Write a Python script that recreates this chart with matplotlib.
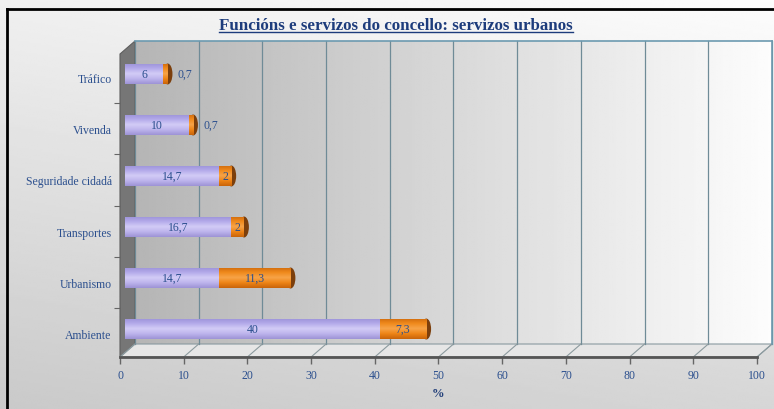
import numpy as np
import matplotlib
matplotlib.use('Agg')
import matplotlib.pyplot as plt
from matplotlib import transforms
from matplotlib.patches import Polygon, Ellipse
from matplotlib.colors import LinearSegmentedColormap

#### DATA ####
categorias = ['Ambiente', 'Urbanismo', 'Transportes', 'Seguridade cidadá', 'Vivenda', 'Tráfico']
serie_lila = [40, 14.7, 16.7, 14.7, 10, 6]
serie_laranxa = [7.3, 11.3, 2, 2, 0.7, 0.7]
ticks_x = [0, 10, 20, 30, 40, 50, 60, 70, 80, 90, 100]
titulo = 'Funcións e servizos do concello: servizos urbanos'

#### STYLE ####
W, H = 774, 410
DX, DY = 15, 13          # depth of the 3d box (px)
BX, BY = 5, 4            # bars sit a bit inside the box
texto_cor = '#2b4f8e'
plt.rcParams['font.family'] = ['Liberation Serif', 'DejaVu Serif']

def fmt(v):
    return ('%g' % v).replace('.', ',')

fig = plt.figure(figsize=(W / 100, H / 100), dpi=100)

# background in pixel coords
bg = fig.add_axes([0, 0, 1, 1], zorder=0)
bg.set_xlim(0, W)
bg.set_ylim(0, H)
bg.axis('off')
yy, xx = np.mgrid[0:1:200j, 0:1:200j]
fondo = 0.79 + 0.15 * yy + 0.05 * xx
bg.imshow(fondo, extent=[0, W, 0, H], origin='lower', cmap='gray',
          vmin=0, vmax=1, aspect='auto', interpolation='bilinear')

ax = fig.add_axes([120 / W, 52 / H, 637 / W, 303 / H], zorder=1)
ax.set_facecolor('none')
ylo, yhi = -0.47, 5.47
ax.set_xlim(0, 100)
ax.set_ylim(ylo, yhi)

# box corners in pixels, taken from the axes transform
(fx0, fy0), (fx1, fy1) = ax.transData.transform([(0, ylo), (100, yhi)])

# back wall with horizontal gradient
parede = np.tile(np.linspace(0.71, 0.99, 256), (2, 1))
bg.imshow(parede, extent=[fx0 + DX, fx1 + DX, fy0 + DY, fy1 + DY], origin='lower',
          cmap='gray', vmin=0, vmax=1, aspect='auto', interpolation='bilinear')
# left wall
bg.add_patch(Polygon([(fx0, fy0), (fx0, fy1), (fx0 + DX, fy1 + DY), (fx0 + DX, fy0 + DY)],
                     closed=True, facecolor='#767676', edgecolor='#5e5e5e', lw=0.8))
# floor
bg.add_patch(Polygon([(fx0, fy0), (fx1, fy0), (fx1 + DX, fy0 + DY), (fx0 + DX, fy0 + DY)],
                     closed=True, facecolor='#e6e6e6', edgecolor='#8a9aa0', lw=0.8))

for t in ticks_x:
    px = ax.transData.transform((t, ylo))[0]
    bg.plot([px + DX, px + DX], [fy0 + DY, fy1 + DY], color='#6f8b97', lw=0.9)
    bg.plot([px, px + DX], [fy0, fy0 + DY], color='#8c9a9e', lw=0.8)
bg.plot([fx0 + DX, fx1 + DX], [fy1 + DY, fy1 + DY], color='#6c9ab0', lw=1.2)
bg.plot([fx1 + DX, fx1 + DX], [fy0 + DY, fy1 + DY], color='#6c9ab0', lw=1.2)

# frame
bg.plot([7, W], [H - 10, H - 10], color='black', lw=2)
bg.plot([7, 7], [0, H - 10], color='black', lw=2)

#### BARS ####
trans = transforms.offset_copy(ax.transData, fig=fig, x=BX, y=BY, units='dots')
pos = np.arange(len(categorias))
alto = 0.41
cmap_lila = LinearSegmentedColormap.from_list('lila', ['#9d93d6', '#bdb4ec', '#d3ccf6', '#b3aaea', '#9c92d8'])
cmap_lar = LinearSegmentedColormap.from_list('lar', ['#c9640a', '#ee8416', '#f7a448', '#f08a1c', '#cf6a0c'])
grad = np.linspace(0, 1, 64).reshape(-1, 1)

totais = np.array(serie_lila) + np.array(serie_laranxa)
for y, tot in zip(pos, totais):
    ax.add_patch(Ellipse((tot, y), width=1.5, height=alto, transform=trans,
                         facecolor='#7c3f0c', edgecolor='none', zorder=2))

b1 = ax.barh(pos, serie_lila, height=alto, color='#b8afe9', transform=trans, zorder=3)
b2 = ax.barh(pos, serie_laranxa, left=serie_lila, height=alto, color='#f08a1c',
             transform=trans, zorder=3)
for bars, cm in [(b1, cmap_lila), (b2, cmap_lar)]:
    for r in bars:
        x0, y0 = r.get_x(), r.get_y()
        im = ax.imshow(grad, extent=[x0, x0 + r.get_width(), y0, y0 + r.get_height()],
                       origin='lower', cmap=cm, aspect='auto', transform=trans,
                       zorder=3.5, interpolation='bilinear')
        im.set_clip_path(r)

for y, a, b in zip(pos, serie_lila, serie_laranxa):
    ax.text(a / 2, y, fmt(a), transform=trans, ha='center', va='center',
            fontsize=8.5, color=texto_cor, zorder=5)
    if b >= 2:
        ax.text(a + b / 2, y, fmt(b), transform=trans, ha='center', va='center',
                fontsize=8.5, color=texto_cor, zorder=5)
    else:
        ax.text(a + b + 1.6, y, fmt(b), transform=trans, ha='left', va='center',
                fontsize=8.5, color=texto_cor, zorder=5)

ax.set_xlim(0, 100)
ax.set_ylim(ylo, yhi)

#### AXES ####
for s in ['top', 'right', 'left']:
    ax.spines[s].set_visible(False)
ax.spines['bottom'].set_color('#555555')
ax.spines['bottom'].set_linewidth(2)
ax.set_xticks(ticks_x)
ax.set_xticklabels([str(t) for t in ticks_x])
ax.tick_params(axis='x', length=5, width=1, color='#666666', labelsize=8.5,
               labelcolor=texto_cor, pad=4)
ax.set_yticks(pos)
ax.set_yticklabels(categorias)
ax.tick_params(axis='y', length=0, labelsize=8.5, labelcolor=texto_cor, pad=6)
ax.set_yticks(pos[:-1] + 0.5, minor=True)
ax.tick_params(axis='y', which='minor', length=4, color='#666666', width=0.8)
ax.set_xlabel('%', fontsize=9, weight='bold', color='#23407a', labelpad=4)

t = fig.text(396 / W, (H - 26) / H, titulo, ha='center', va='center', fontsize=12.2,
             weight='bold', color='#1d3c7c')
fig.canvas.draw()
bb = t.get_window_extent(fig.canvas.get_renderer())
bg.plot([bb.x0, bb.x1], [bb.y0 + 1, bb.y0 + 1], color='#1d3c7c', lw=1)

fig.savefig('out.png', dpi=100)
